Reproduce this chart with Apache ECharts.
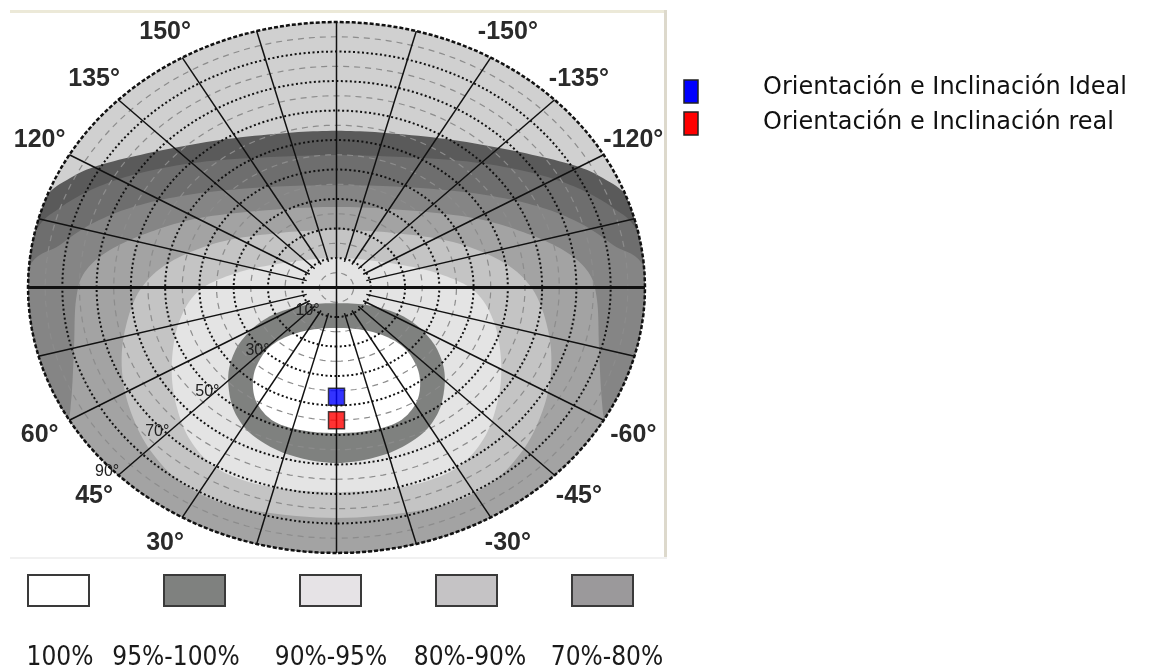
<!DOCTYPE html>
<html>
<head>
<meta charset="utf-8">
<script src="https://cdn.jsdelivr.net/npm/echarts@6/dist/echarts.min.js"></script>
<style>
html,body{margin:0;padding:0;background:#fff}
#chart{width:1150px;height:669px}
</style>
</head>
<body>
<div id="chart"></div>
<script>
// Zone edges on the orientation/inclination plane, in degrees:
// x = inclination * sin(azimuth)  (positive towards +azimuth)
// y = -inclination * cos(azimuth) (azimuth 0 points down)
// Each list runs over the +azimuth half, from the north axis round to the
// south axis; the zones are symmetric about the north-south axis.
// Points beyond the 90 deg rim only close the shape and are pulled onto the rim.
const edge40 = [[0,53.1],[14.4,52.4],[34.0,50.0],[53.5,45.9],[69.0,41.5],[77.7,37.1],[85.6,29.7],[95.2,9.3],[101.1,-55.1],[80.7,-133],[0,-160.2]];
const edge50 = [[0,44.9],[19.4,44.2],[39.8,42.5],[57.3,38.8],[70.4,33.7],[80.7,27.0],[87.9,18.8],[95.2,-4.2],[98.2,-55.1],[74.8,-119.5],[0,-146.6]];
const edge60 = [[0,34.7],[19.4,34.1],[39.8,32.0],[57.3,28.0],[70.4,22.2],[80.7,14.4],[90.9,4.2],[98.2,-38.1],[83.6,-105.9],[0,-139.8]];
const edge70 = [[0,27.3],[19.4,26.3],[39.8,23.6],[54.4,18.8],[66.1,12.7],[73.4,5.3],[76.0,-4.2],[76.6,-21.2],[77.4,-38.1],[78.9,-48.3],[86.5,-78.8],[54.4,-112.7],[0,-119.5]];
const edge80 = [[0,19.5],[16.5,18.5],[34.0,15.4],[48.6,8.6],[57.3,-0.8],[61.7,-14.4],[62.6,-28.0],[60.2,-41.5],[54.4,-55.1],[44.2,-67.0],[28.1,-74.7],[0,-78.1]];
const edge90 = [[0,10.0],[13.6,8.6],[28.1,5.3],[39.8,-0.8],[45.7,-11.0],[48.0,-24.6],[47.1,-38.1],[42.7,-51.7],[34.0,-61.9],[19.4,-67.6],[0,-69.3]];
const edge95 = [[0,-5.3],[10.6,-6.3],[20.3,-10.3],[27.6,-17.8],[31.1,-26.3],[31.4,-34.7],[29.3,-43.2],[23.8,-50.7],[13.6,-56.8],[0,-59.5]];
const edge100 = [[0,-13.7],[10.6,-15.1],[18.8,-19.5],[23.2,-26.3],[24.4,-33.1],[22.9,-39.8],[17.9,-45.6],[9.2,-48.6],[0,-49.3]];

// Drawn from the outside in; null = whole hemisphere
const zoneEdges = [null, edge40, edge50, edge60, edge70, edge80, edge90, edge95, edge100];

// Grid of the diagram
const dashedTilts = [5,15,25,35,45,55,65,75,85];
const dottedTilts = [10,20,30,40,50,60,70,80];
const rayAzimuths = [-165,-150,-135,-120,-105,-90,-75,-60,-45,-30,-15,0,15,30,45,60,75,90,105,120,135,150,165,180];
const azimuthTicks = [150,135,120,60,45,30,-30,-45,-60,-120,-135,-150];
const tiltTicks = [10,30,50,70,90];

// Marked panels: azimuth and inclination in degrees
const panelNames = ['Orientación e Inclinación Ideal','Orientación e Inclinación real'];
const panelAzimuth = [0,0];
const panelTilt = [37,45];

const legendLabels = ['100%','95%-100%','90%-95%','80%-90%','70%-80%'];

// ---- styles ----
const zoneFill = ['#d0d0d0','#5a5a5a','#6e6e6e','#858585','#a3a3a3','#c4c4c4','#e4e4e4','#7f817f','#ffffff'];
const legendFill = ['#ffffff','#7f817f','#e6e3e6','#c5c3c5','#9b999b'];
const panelColor = ['#0000ff','#ff0000'];

function toPlane(az, tilt) {
  const a = az * Math.PI / 180;
  return [tilt * Math.sin(a), -tilt * Math.cos(a)];
}
function fullLoop(half) {
  const other = half.slice(1, -1).reverse().map(p => [-p[0], p[1]]);
  return half.concat(other);
}
function smoothClosed(pts, steps) {
  const n = pts.length, out = [];
  for (let i = 0; i < n; i++) {
    const p0 = pts[(i - 1 + n) % n], p1 = pts[i], p2 = pts[(i + 1) % n], p3 = pts[(i + 2) % n];
    for (let s = 0; s < steps; s++) {
      const t = s / steps, t2 = t * t, t3 = t2 * t;
      const f = k => 0.5 * ((2 * p1[k]) + (-p0[k] + p2[k]) * t + (2 * p0[k] - 5 * p1[k] + 4 * p2[k] - p3[k]) * t2 + (-p0[k] + 3 * p1[k] - 3 * p2[k] + p3[k]) * t3);
      out.push([f(0), f(1)]);
    }
  }
  return out;
}
function clampToRim(p) {
  const r = Math.hypot(p[0], p[1]);
  return r > 90 ? [p[0] * 90 / r, p[1] * 90 / r] : p;
}
function circle(tilt) {
  const pts = [];
  for (let a = 0; a <= 360; a += 3) pts.push(toPlane(a, tilt));
  return pts;
}

const lineSpecs = []
  .concat(dashedTilts.map(v => ({ kind: 'dash', v })))
  .concat(dottedTilts.map(v => ({ kind: 'dot', v })))
  .concat([{ kind: 'rim', v: 90 }])
  .concat(rayAzimuths.map(v => ({ kind: 'ray', v })));

const labelSpecs = []
  .concat(azimuthTicks.map(v => ({ kind: 'az', v })))
  .concat(tiltTicks.map(v => ({ kind: 'tilt', v })));

const chart = echarts.init(document.getElementById('chart'), null, { renderer: 'canvas' });

const option = {
  animation: false,
  backgroundColor: '#ffffff',
  grid: { left: 28, top: 22, width: 617, height: 531 },
  xAxis: { type: 'value', min: -90, max: 90, inverse: true, show: false },
  yAxis: { type: 'value', min: -90, max: 90, show: false },
  series: [
    {
      type: 'custom', z: 1, clip: false, silent: true,
      data: zoneEdges.map(() => [0, 0]),
      renderItem: (params, api) => {
        const i = params.dataIndex;
        const edge = zoneEdges[i];
        const pts = edge ? smoothClosed(fullLoop(edge), 10).map(clampToRim) : circle(90);
        return { type: 'polygon', shape: { points: pts.map(p => api.coord(p)) }, style: { fill: zoneFill[i] } };
      }
    },
    {
      type: 'custom', z: 2, clip: false, silent: true,
      data: lineSpecs.map(() => [0, 0]),
      renderItem: (params, api) => {
        const s = lineSpecs[params.dataIndex];
        if (s.kind === 'ray') {
          const start = (s.v % 90 === 0) ? 0 : 9;
          const main = Math.abs(s.v) === 90;
          const a = api.coord(toPlane(s.v, start)), b = api.coord(toPlane(s.v, 90));
          return {
            type: 'line',
            shape: { x1: a[0], y1: a[1], x2: b[0], y2: b[1] },
            style: { stroke: '#111', lineWidth: main ? 3 : 1.5 }
          };
        }
        const pts = circle(s.v).map(p => api.coord(p));
        let style;
        if (s.kind === 'dash') style = { stroke: '#8c8c8c', lineWidth: 1.2, lineDash: [6, 5], fill: null };
        else if (s.kind === 'dot') style = { stroke: '#111', lineWidth: 2, lineDash: [2, 2.5], fill: null };
        else style = { stroke: '#111', lineWidth: 2.5, lineDash: [4, 2], fill: null };
        return { type: 'polyline', shape: { points: pts }, style };
      }
    },
    {
      type: 'custom', z: 3, clip: false, silent: true,
      data: labelSpecs.map(() => [0, 0]),
      renderItem: (params, api) => {
        const s = labelSpecs[params.dataIndex];
        if (s.kind === 'az') {
          const p = api.coord(toPlane(s.v, 100));
          return { type: 'text', style: { text: s.v + '°', x: p[0], y: p[1], fill: '#2a2a2a', font: 'bold 25px "Liberation Sans", Arial, sans-serif', align: 'center', verticalAlign: 'middle' } };
        }
        const p = api.coord(toPlane(47, s.v + 1.5));
        return { type: 'text', style: { text: s.v + '°', x: p[0], y: p[1], fill: '#222', font: '16px "Liberation Sans", Arial, sans-serif', align: 'center', verticalAlign: 'middle' } };
      }
    },
    {
      type: 'scatter', z: 4, silent: true,
      symbol: 'rect', symbolSize: [16, 17],
      data: panelNames.map((n, i) => ({
        name: n,
        value: toPlane(panelAzimuth[i], panelTilt[i]),
        itemStyle: { color: panelColor[i], borderColor: '#1a1a1a', borderWidth: 1.5 }
      }))
    }
  ],
  graphic: (() => {
    const g = [
      // panel frame
      { type: 'rect', shape: { x: 10, y: 10, width: 657, height: 3 }, style: { fill: '#ece9d8' }, silent: true },
      { type: 'rect', shape: { x: 664, y: 10, width: 3, height: 548 }, style: { fill: '#ddd9cc' }, silent: true },
      { type: 'rect', shape: { x: 10, y: 557, width: 657, height: 2 }, style: { fill: '#f1f1f1' }, silent: true }
    ];
    const boxX = [28, 164, 300, 436, 572];
    const textX = [60, 176, 331, 470, 607];
    legendLabels.forEach((t, i) => {
      g.push({ type: 'rect', shape: { x: boxX[i], y: 575, width: 61, height: 31 }, style: { fill: legendFill[i], stroke: '#3a3a3a', lineWidth: 2 }, silent: true });
      g.push({ type: 'text', x: textX[i], y: 658, style: { text: t, fill: '#1a1a1a', font: '26px "Liberation Sans Narrow", "DejaVu Sans Condensed", sans-serif', align: 'center', verticalAlign: 'middle' }, silent: true });
    });
    panelNames.forEach((t, i) => {
      g.push({ type: 'rect', shape: { x: 684, y: 80 + i * 32, width: 14, height: 23 }, style: { fill: panelColor[i], stroke: '#222', lineWidth: 1.5 }, silent: true });
      g.push({ type: 'text', x: 763, y: 88 + i * 35, style: { text: t, fill: '#111', font: '24px "DejaVu Sans", sans-serif', align: 'left', verticalAlign: 'middle' }, silent: true });
    });
    return g;
  })()
};

chart.setOption(option);
</script>
</body>
</html>
